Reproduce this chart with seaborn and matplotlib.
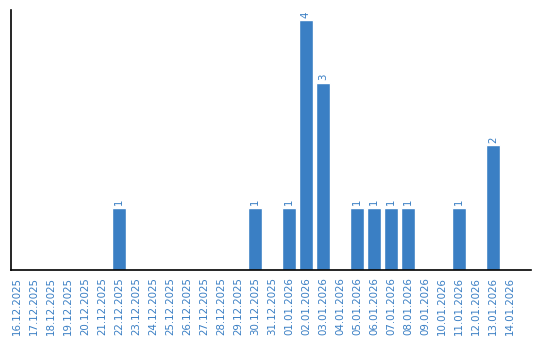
import matplotlib
matplotlib.use("Agg")
import matplotlib.pyplot as plt
import seaborn as sns
import pandas as pd

dates = ["16.12.2025", "17.12.2025", "18.12.2025", "19.12.2025", "20.12.2025",
         "21.12.2025", "22.12.2025", "23.12.2025", "24.12.2025", "25.12.2025",
         "26.12.2025", "27.12.2025", "28.12.2025", "29.12.2025", "30.12.2025",
         "31.12.2025", "01.01.2026", "02.01.2026", "03.01.2026", "04.01.2026",
         "05.01.2026", "06.01.2026", "07.01.2026", "08.01.2026", "09.01.2026",
         "10.01.2026", "11.01.2026", "12.01.2026", "13.01.2026", "14.01.2026"]
counts = [0, 0, 0, 0, 0, 0, 1, 0, 0, 0, 0, 0, 0, 0, 1,
          0, 1, 4, 3, 0, 1, 1, 1, 1, 0, 0, 1, 0, 2, 0]

color = "#3a7fc4"
sns.set_style("white")
plt.rcParams['font.family'] = ['DejaVu Sans']

df = pd.DataFrame({"date": dates, "count": counts})
fig = plt.figure(figsize=(5.4, 3.4), dpi=100)
ax = fig.add_axes([10.5/540, 70/340, 520.5/540, 260/340])
sns.barplot(data=df, x="date", y="count", color=color, saturation=1, width=0.82, ax=ax)
ax.set_xlim(-0.38, 30.24)
ax.set_ylim(0, 4.16)
ax.set_xlabel("")
ax.set_ylabel("")
ax.set_yticks([])
ax.tick_params(axis="x", rotation=90, labelsize=7.4, labelcolor=color, length=0, pad=5)
for s in ["top", "right"]:
    ax.spines[s].set_visible(False)
for s in ["left", "bottom"]:
    ax.spines[s].set_color("black")
    ax.spines[s].set_linewidth(1.2)
for i, v in enumerate(counts):
    if v > 0:
        ax.text(i, v + 0.04, str(v), rotation=90, ha="center", va="bottom",
                fontsize=7.4, color=color)
fig.savefig("out.png", dpi=100)
